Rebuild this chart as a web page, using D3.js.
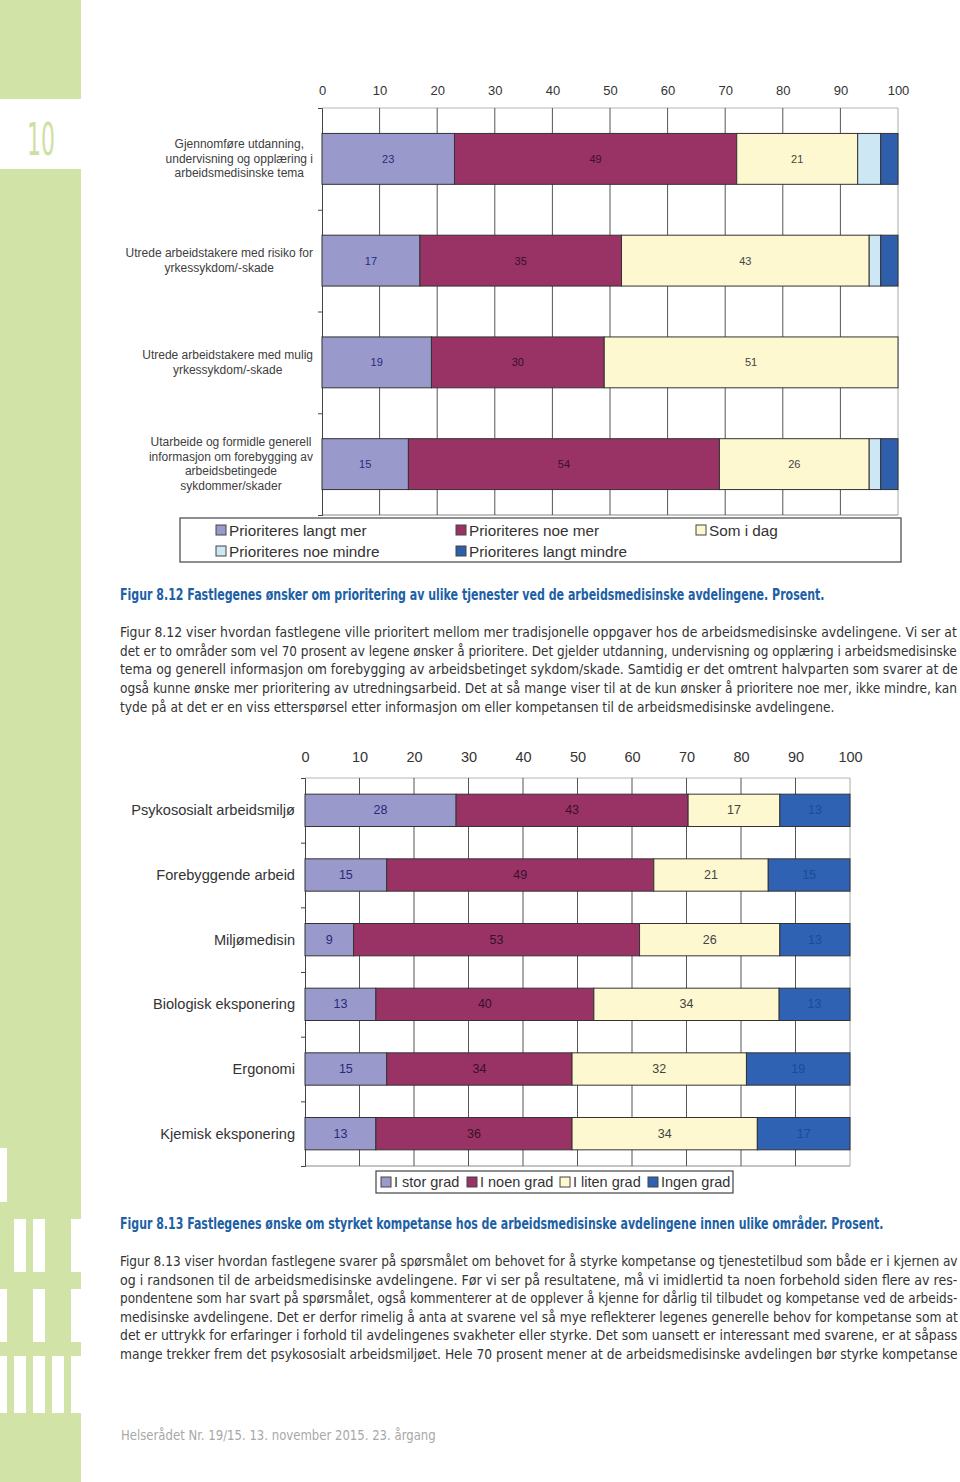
<!DOCTYPE html>
<html><head><meta charset="utf-8">
<script src="https://cdn.jsdelivr.net/npm/d3@7"></script>
<style>body{margin:0;background:#fff} svg{display:block}</style>
</head><body>
<svg id="page" width="960" height="1482"></svg>
<script>
// ---------- DATA ----------
const tickValues = [0,10,20,30,40,50,60,70,80,90,100];

const categories1 = [
  ["Gjennomføre utdanning,","undervisning og opplæring i","arbeidsmedisinske tema"],
  ["Utrede arbeidstakere med risiko for","yrkessykdom/-skade"],
  ["Utrede arbeidstakere med mulig","yrkessykdom/-skade"],
  ["Utarbeide og formidle generell","informasjon om forebygging av","arbeidsbetingede","sykdommer/skader"]
];
const series1 = ["Prioriteres langt mer","Prioriteres noe mer","Som i dag","Prioriteres noe mindre","Prioriteres langt mindre"];
const langtMer    = [23,17,19,15];
const noeMer      = [49,35,30,54];
const somIDag     = [21,43,51,26];
const noeMindre   = [4,2,0,2];
const langtMindre = [3,3,0,3];

const categories2 = ["Psykososialt arbeidsmiljø","Forebyggende arbeid","Miljømedisin","Biologisk eksponering","Ergonomi","Kjemisk eksponering"];
const series2 = ["I stor grad","I noen grad","I liten grad","Ingen grad"];
const storGrad  = [28,15,9,13,15,13];
const noenGrad  = [43,49,53,40,34,36];
const litenGrad = [17,21,26,34,32,34];
const ingenGrad = [13,15,13,13,19,17];

const caption1 = "Figur  8.12 Fastlegenes ønsker om prioritering av ulike tjenester ved de arbeidsmedisinske avdelingene. Prosent.";
const para1 = [
  "Figur 8.12 viser hvordan fastlegene ville prioritert mellom mer tradisjonelle oppgaver hos de arbeidsmedisinske avdelingene. Vi ser at",
  "det er to områder som vel 70 prosent av legene ønsker å prioritere. Det gjelder utdanning, undervisning og opplæring i arbeidsmedisinske",
  "tema og generell informasjon om forebygging av arbeidsbetinget sykdom/skade. Samtidig er det omtrent halvparten som svarer at de",
  "også kunne ønske mer prioritering av utredningsarbeid. Det at så mange viser til at de kun ønsker å prioritere noe mer, ikke mindre, kan",
  "tyde på at det er en viss etterspørsel etter informasjon om eller kompetansen til de arbeidsmedisinske avdelingene."
];
const caption2 = "Figur 8.13 Fastlegenes ønske om styrket kompetanse hos de arbeidsmedisinske avdelingene innen ulike områder. Prosent.";
const para2 = [
  "Figur 8.13 viser hvordan fastlegene svarer på spørsmålet om behovet for å styrke kompetanse og tjenestetilbud som både er i kjernen av",
  "og i randsonen til de  arbeidsmedisinske avdelingene. Før vi ser på resultatene, må vi imidlertid ta noen forbehold siden flere av res-",
  "pondentene som har svart på spørsmålet, også kommenterer at de opplever å kjenne for dårlig til tilbudet og kompetanse ved de arbeids-",
  "medisinske avdelingene. Det er derfor rimelig å anta at svarene vel så mye reflekterer legenes generelle behov for kompetanse som at",
  "det er uttrykk for erfaringer i forhold til avdelingenes svakheter eller styrke. Det som uansett er interessant med svarene, er at såpass",
  "mange trekker frem det psykososialt arbeidsmiljøet. Hele 70 prosent mener at de arbeidsmedisinske avdelingen bør styrke kompetanse"
];
const footer = "Helserådet Nr. 19/15. 13. november 2015. 23. årgang";
const pageNumber = "10";

// ---------- PAGE ----------
const svg = d3.select("#page");
svg.append("rect").attr("width",960).attr("height",1482).attr("fill","#fff");

const GREEN = "#d2e3a8";
const side = svg.append("g");
side.append("rect").attr("x",0).attr("y",0).attr("width",81).attr("height",1482).attr("fill",GREEN);
const whites = [
  [0,99,81,70],
  [0,1148,7,54],
  [14,1219,12,53],[33,1219,12,53],[71,1219,10,53],
  [0,1289,7,53],[33,1289,12,53],[71,1289,10,53],
  [0,1356,7,57],[14,1356,12,57],[33,1356,12,57],[52,1356,12,57],[71,1356,10,57]
];
side.selectAll("rect.w").data(whites).join("rect").attr("class","w")
  .attr("x",d=>d[0]).attr("y",d=>d[1]).attr("width",d=>d[2]).attr("height",d=>d[3]).attr("fill","#fff");
side.append("text").attr("x",27).attr("y",155).attr("font-family","DejaVu Sans Condensed, DejaVu Sans, sans-serif")
  .attr("font-weight",200).attr("font-size",44).attr("fill","#cde0a3")
  .attr("textLength",28).attr("lengthAdjust","spacingAndGlyphs").text(pageNumber);

const BODYFONT = "'DejaVu Sans Condensed', 'Liberation Sans Narrow', 'Liberation Sans', sans-serif";
// Each line is drawn at its natural width and squeezed horizontally to fit its measured width in the reference.
function textLine(x,y,str,len,opts){
  const g = svg.append("g");
  const t = g.append("text").attr("x",0).attr("y",0).attr("font-family",BODYFONT)
    .attr("font-size",opts.size||14.5).attr("fill",opts.fill||"#333")
    .attr("font-weight",opts.weight||"normal").attr("dominant-baseline","middle").text(str);
  const w = t.node().getComputedTextLength();
  const k = len ? len / w : 1;
  g.attr("transform",`translate(${x},${y}) scale(${k},1)`);
  return g;
}
const BLUE = "#2060a5";
textLine(120,596,caption1,705,{fill:BLUE,weight:"bold",size:15});
const p1ends = [958,958,958,958,835];
para1.forEach((s,i)=>textLine(120,633+i*18.6,s,p1ends[i]-120,{}));
textLine(120,1225,caption2,764,{fill:BLUE,weight:"bold",size:15});
const p2ends = [958,958,958,958,958,958];
para2.forEach((s,i)=>textLine(120,1262+i*18.5,s,p2ends[i]-120,{}));
textLine(121,1436,footer,315,{fill:"#a8a8a8",size:14.5});

// ---------- CHART HELPER ----------
const CHARTFONT = "'Liberation Sans', Arial, sans-serif";
function drawChart(cfg){
  const g = svg.append("g").attr("font-family",CHARTFONT);
  const n = cfg.categories.length;
  const x = d3.scaleLinear().domain([0,100]).range([cfg.left,cfg.right]);
  const yb = d3.scaleBand().domain(d3.range(n)).range([cfg.top,cfg.bottom]).paddingInner(0.5).paddingOuter(0.25);
  const yl = d3.scaleLinear().domain([0,n]).range([cfg.top,cfg.bottom]);

  // plot border (top/right/bottom)
  g.append("line").attr("x1",cfg.left).attr("x2",cfg.right).attr("y1",cfg.top).attr("y2",cfg.top).attr("stroke","#b5b5b5");
  g.append("line").attr("x1",cfg.right).attr("x2",cfg.right).attr("y1",cfg.top).attr("y2",cfg.bottom).attr("stroke","#aaa");
  g.append("line").attr("x1",cfg.left).attr("x2",cfg.right).attr("y1",cfg.bottom).attr("y2",cfg.bottom).attr("stroke","#888");

  // gridlines
  g.append("g").selectAll("line").data(tickValues.slice(1,-1)).join("line")
    .attr("x1",d=>x(d)).attr("x2",d=>x(d)).attr("y1",cfg.top).attr("y2",cfg.bottom)
    .attr("stroke","#555").attr("stroke-width",1);

  // top axis labels
  const ax = g.append("g").attr("transform",`translate(0,${cfg.tickY})`)
    .call(d3.axisTop(x).tickValues(tickValues).tickSize(0).tickPadding(0).tickFormat(d3.format("d")));
  ax.select(".domain").remove();
  ax.selectAll("text").attr("font-family",CHARTFONT).attr("font-size",cfg.tickSize).attr("fill","#333").attr("dy","0.35em");

  // left axis with boundary ticks
  const la = g.append("g").attr("transform",`translate(${cfg.left},0)`)
    .call(d3.axisLeft(yl).tickValues(d3.range(n+1)).tickSize(4).tickFormat(""));
  la.select(".domain").attr("stroke","#444");
  la.selectAll("line").attr("stroke","#444");

  // stack
  const rows = d3.range(n).map(i=>{
    const o = {i};
    cfg.values.forEach((arr,k)=>o[k]=arr[i]);
    return o;
  });
  const stack = d3.stack().keys(d3.range(cfg.values.length)).offset(d3.stackOffsetExpand)(rows);
  const layers = g.append("g").selectAll("g").data(stack).join("g").attr("fill",d=>cfg.colors[d.key]);
  layers.selectAll("rect").data(d=>d.filter(s=>s[1]-s[0]>0)).join("rect")
    .attr("x",d=>x(d[0]*100)).attr("width",d=>x(d[1]*100)-x(d[0]*100))
    .attr("y",d=>yb(d.data.i)).attr("height",yb.bandwidth())
    .attr("stroke","#333").attr("stroke-width",1);
  // value labels
  stack.forEach(layer=>{
    if(!cfg.showLabel[layer.key]) return;
    g.append("g").selectAll("text").data(layer.filter(s=>s.data[layer.key]>0)).join("text")
      .attr("x",d=>x((d[0]+d[1])/2*100)).attr("y",d=>yb(d.data.i)+yb.bandwidth()/2)
      .attr("text-anchor","middle").attr("dominant-baseline","central")
      .attr("font-size",cfg.valueSize).attr("fill",cfg.labelColors[layer.key])
      .text(d=>d.data[layer.key]);
  });

  // category labels
  cfg.categories.forEach((lab,i)=>{
    const lines = Array.isArray(lab)?lab:[lab];
    const cy = yb(i)+yb.bandwidth()/2;
    const t = g.append("text").attr("font-size",cfg.catSize).attr("fill",cfg.catFill);
    const lh = cfg.lineH;
    const spans = lines.map((s,j)=>t.append("tspan").attr("y",cy+(j-(lines.length-1)/2)*lh).attr("dominant-baseline","central").text(s));
    if(cfg.catCenter){
      const maxW = d3.max(spans,s=>s.node().getComputedTextLength());
      const cx = cfg.catRight - maxW/2;
      spans.forEach(s=>s.attr("x",cx).attr("text-anchor","middle"));
    } else {
      spans.forEach(s=>s.attr("x",cfg.catRight).attr("text-anchor","end"));
    }
  });
  return g;
}

const colors1 = ["#9999cc","#993366","#fdf8cf","#cde8f4","#2f5fab"];
drawChart({
  categories:categories1, values:[langtMer,noeMer,somIDag,noeMindre,langtMindre],
  colors:colors1, labelColors:["#2a2a7a","#3a1028","#444","#333","#1a4a90"],
  showLabel:[true,true,true,false,false],
  left:322,right:898,top:108,bottom:515,tickY:90,tickSize:13,valueSize:11,
  catSize:12,catFill:"#404040",catRight:313,catCenter:true,lineH:14.5
});

const colors2 = ["#9999cc","#993366","#fdf8cf","#2f62b2"];
drawChart({
  categories:categories2, values:[storGrad,noenGrad,litenGrad,ingenGrad],
  colors:colors2, labelColors:["#2a2a7a","#3a1028","#444","#1b4c95"],
  showLabel:[true,true,true,true],
  left:305,right:850,top:778,bottom:1166,tickY:757,tickSize:14.5,valueSize:12.5,
  catSize:14.6,catFill:"#333",catRight:295,catCenter:false,lineH:15
});

// ---------- LEGENDS ----------
function legend(box, items, colors, size){
  const g = svg.append("g").attr("font-family",CHARTFONT);
  g.append("rect").attr("x",box[0]).attr("y",box[1]).attr("width",box[2]).attr("height",box[3])
    .attr("fill","#fff").attr("stroke","#444").attr("stroke-width",1.2);
  const it = g.selectAll("g").data(items).join("g").attr("transform",d=>`translate(${d.x},${d.y})`);
  it.append("rect").attr("x",0).attr("y",-5).attr("width",10).attr("height",10)
    .attr("fill",d=>colors[d.k]).attr("stroke","#444").attr("stroke-width",1);
  it.append("text").attr("x",13).attr("y",0).attr("dominant-baseline","central")
    .attr("font-size",size).attr("fill","#333").text(d=>d.name);
}
legend([180,518,721,44],[
  {k:0,name:series1[0],x:216,y:530},{k:1,name:series1[1],x:456,y:530},{k:2,name:series1[2],x:696,y:530},
  {k:3,name:series1[3],x:216,y:551},{k:4,name:series1[4],x:456,y:551}
], colors1, 15.3);
legend([376,1171,357,22],[
  {k:0,name:series2[0],x:381,y:1182},{k:1,name:series2[1],x:467,y:1182},
  {k:2,name:series2[2],x:560,y:1182},{k:3,name:series2[3],x:648,y:1182}
], colors2, 14.5);
</script>
</body></html>
